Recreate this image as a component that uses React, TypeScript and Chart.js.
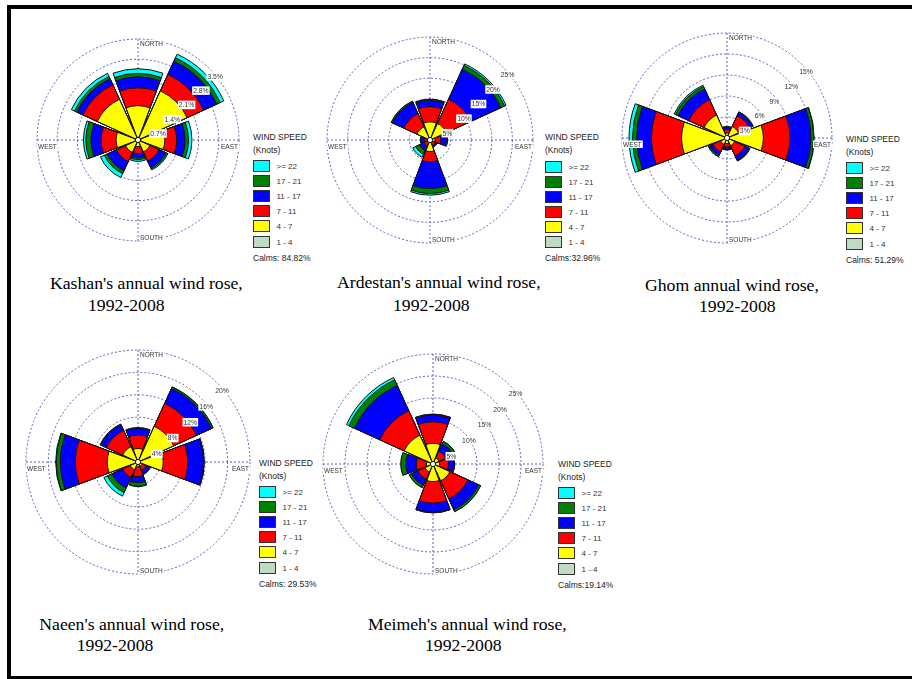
import React, { useEffect, useRef } from 'react';
import { Chart, registerables } from 'chart.js';

Chart.register(...registerables);

// ---------------- DATA ----------------
const directions = ['N', 'NE', 'E', 'SE', 'S', 'SW', 'W', 'NW'];
const speedClasses = ['1 - 4', '4 - 7', '7 - 11', '11 - 17', '17 - 21', '>= 22'];

// Frequencies (%) : rows = speed classes (1-4 ... >=22), cols = directions (N ... NW)
const kashanFreq = [
  [0.10, 0.10, 0.10, 0.08, 0.05, 0.08, 0.10, 0.10],
  [1.09, 1.77, 0.83, 0.37, 0.18, 0.39, 0.66, 1.45],
  [0.62, 0.63, 0.41, 0.35, 0.24, 0.35, 0.52, 0.55],
  [0.38, 0.50, 0.29, 0.25, 0.15, 0.35, 0.35, 0.23],
  [0.12, 0.13, 0.12, 0.05, 0.06, 0.11, 0.18, 0.09],
  [0.16, 0.14, 0.12, 0.04, 0.06, 0.15, 0.08, 0.12],
];
const kashanTicks = [0.7, 1.4, 2.1, 2.8, 3.5];
const kashanCalms = 'Calms: 84.82%';

const ardestanFreq = [
  [0.3, 0.3, 0.2, 0.2, 0.3, 0.2, 0.2, 0.3],
  [4.1, 4.1, 1.0, 0.6, 2.5, 0.6, 0.5, 3.2],
  [3.7, 6.5, 1.4, 0.7, 2.5, 0.8, 0.7, 3.5],
  [1.5, 8.0, 1.5, 0.3, 6.5, 1.2, 0.8, 3.0],
  [0.2, 1.0, 0.1, 0.05, 1.2, 1.0, 0.1, 0.3],
  [0.1, 0.4, 0.05, 0.05, 0.4, 0.8, 0.05, 0.05],
];
const ardestanTicks = [5, 10, 15, 20, 25];
const ardestanCalms = 'Calms:32.96%';

const ghomFreq = [
  [0.2, 0.2, 0.3, 0.2, 0.2, 0.2, 0.3, 0.2],
  [0.5, 1.6, 4.9, 1.0, 0.6, 0.8, 6.2, 3.4],
  [0.5, 1.7, 3.8, 1.6, 0.5, 1.2, 4.3, 2.4],
  [0.3, 0.5, 3.0, 0.7, 0.3, 0.5, 2.1, 1.7],
  [0.1, 0.1, 0.4, 0.1, 0.1, 0.2, 0.6, 0.4],
  [0.05, 0.0, 0.05, 0.0, 0.0, 0.0, 0.5, 0.2],
];
const ghomTicks = [3, 6, 9, 12, 15];
const ghomCalms = 'Calms: 51.29%';

const naeenFreq = [
  [0.3, 0.3, 0.3, 0.2, 0.2, 0.2, 0.3, 0.3],
  [2.1, 6.7, 4.2, 0.6, 0.6, 1.3, 5.2, 2.7],
  [2.4, 4.5, 4.4, 0.8, 1.8, 1.5, 5.7, 3.2],
  [1.2, 2.9, 2.8, 0.7, 1.1, 2.1, 2.7, 1.1],
  [0.1, 0.3, 0.1, 0.1, 0.6, 0.9, 0.7, 0.1],
  [0.05, 0.05, 0.05, 0.0, 0.1, 0.7, 0.1, 0.05],
];
const naeenTicks = [4, 8, 12, 16, 20];
const naeenCalms = 'Calms: 29.53%';

const meimehFreq = [
  [0.3, 0.3, 0.3, 0.3, 0.3, 0.3, 0.3, 0.3],
  [4.4, 1.2, 1.2, 3.9, 3.7, 1.7, 1.2, 6.9],
  [4.9, 1.7, 2.0, 4.5, 4.9, 1.8, 2.3, 6.1],
  [1.5, 1.8, 1.2, 2.7, 2.0, 1.5, 2.4, 6.3],
  [0.2, 0.6, 0.2, 0.5, 0.2, 0.6, 1.1, 1.4],
  [0.05, 0.05, 0.0, 0.0, 0.0, 0.0, 0.0, 0.6],
];
const meimehTicks = [5, 10, 15, 20, 25];
const meimehCalms = 'Calms:19.14%';

const kashanTitle = ["Kashan's annual wind rose,", '1992-2008'];
const ardestanTitle = ["Ardestan's annual wind rose,", '1992-2008'];
const ghomTitle = ['Ghom annual wind rose,', '1992-2008'];
const naeenTitle = ["Naeen's annual wind rose,", '1992-2008'];
const meimehTitle = ["Meimeh's annual wind rose,", '1992-2008'];

const cardinalLabels = ['NORTH', 'EAST', 'SOUTH', 'WEST'];
const legendTitle = ['WIND SPEED', '(Knots)'];

// ---------------- STYLE / LAYOUT ----------------
const classColors = ['#c0dcc0', '#ffff00', '#ff0000', '#0000ff', '#008000', '#00ffff'];
const gridColor = '#6060c0';
const SECTOR = 41;
const GAP = 4;
const PAD = 6;
const sansFont = '"Liberation Sans", Arial, sans-serif';
const serifFont = '"Liberation Serif", "Times New Roman", serif';

type Layout = {
  cx: number; cy: number; R: number;
  legend: [number, number];
  title: [[number, number], [number, number]];
};

const stations = [
  { freq: kashanFreq, ticks: kashanTicks, calms: kashanCalms, title: kashanTitle,
    layout: { cx: 138, cy: 140, R: 101, legend: [253, 133], title: [[50, 290], [88, 311.7]] } as Layout },
  { freq: ardestanFreq, ticks: ardestanTicks, calms: ardestanCalms, title: ardestanTitle,
    layout: { cx: 430, cy: 140, R: 103, legend: [545, 133.5], title: [[337, 289], [393, 312]] } as Layout },
  { freq: ghomFreq, ticks: ghomTicks, calms: ghomCalms, title: ghomTitle,
    layout: { cx: 727, cy: 138, R: 105, legend: [846, 135], title: [[645, 292], [699, 313]] } as Layout },
  { freq: naeenFreq, ticks: naeenTicks, calms: naeenCalms, title: naeenTitle,
    layout: { cx: 138, cy: 462, R: 112, legend: [259, 459], title: [[39.3, 631], [76.7, 651.7]] } as Layout },
  { freq: meimehFreq, ticks: meimehTicks, calms: meimehCalms, title: meimehTitle,
    layout: { cx: 433, cy: 464, R: 110, legend: [558, 460], title: [[368, 631], [425, 652]] } as Layout },
];

function labelBox(ctx: CanvasRenderingContext2D, text: string, x: number, y: number, h: number) {
  const w = ctx.measureText(text).width;
  ctx.fillStyle = '#ffffff';
  ctx.fillRect(x - 1, y, w + 2, h);
  ctx.fillStyle = '#333333';
  ctx.fillText(text, x, y + h / 2 + 0.5);
  return w;
}

function makeDecorPlugin(ticks: number[]) {
  return {
    id: 'roseDecor',
    beforeDatasetsDraw(chart: any) {
      const s = chart.scales.r;
      const ctx = chart.ctx as CanvasRenderingContext2D;
      const cx = s.xCenter, cy = s.yCenter;
      const R = s.getDistanceFromCenterForValue(ticks[ticks.length - 1]);
      ctx.save();
      ctx.strokeStyle = gridColor;
      ctx.lineWidth = 1;
      ctx.setLineDash([2, 2]);
      ctx.beginPath();
      ctx.moveTo(cx, cy - R);
      ctx.lineTo(cx, cy + R);
      ctx.moveTo(cx - R, cy);
      ctx.lineTo(cx + R, cy);
      ctx.stroke();
      ctx.restore();
    },
    afterDatasetsDraw(chart: any) {
      const s = chart.scales.r;
      const ctx = chart.ctx as CanvasRenderingContext2D;
      const cx = s.xCenter, cy = s.yCenter;
      const R = s.getDistanceFromCenterForValue(ticks[ticks.length - 1]);
      ctx.save();
      // calms circle
      ctx.beginPath();
      ctx.arc(cx, cy, 2.6, 0, Math.PI * 2);
      ctx.fillStyle = '#ffffff';
      ctx.fill();
      ctx.strokeStyle = '#111';
      ctx.lineWidth = 1;
      ctx.stroke();

      // cardinal labels
      ctx.font = `6.5px ${sansFont}`;
      ctx.textBaseline = 'middle';
      ctx.textAlign = 'left';
      const h = 7.5;
      const [north, east, south, west] = cardinalLabels;
      labelBox(ctx, north, cx + 2, cy - R + 1, h);
      labelBox(ctx, south, cx + 2, cy + R - h, h);
      labelBox(ctx, west, cx - R + 1, cy + 2.5, h);
      const ew = ctx.measureText(east).width;
      labelBox(ctx, east, cx + R - ew - 1, cy + 2.5, h);

      // tick labels along NE direction
      ctx.font = `6.8px ${sansFont}`;
      ticks.forEach((v) => {
        const d = s.getDistanceFromCenterForValue(v);
        const px = cx + d * Math.SQRT1_2;
        const py = cy - d * Math.SQRT1_2;
        labelBox(ctx, `${v}%`, px - 2, py + 3.5, 8.5);
      });
      ctx.restore();
    },
  };
}

function WindRose({ freq, ticks, layout }: { freq: number[][]; ticks: number[]; layout: Layout }) {
  const ref = useRef<HTMLCanvasElement>(null);
  useEffect(() => {
    const labels: string[] = [];
    directions.forEach((d) => {
      labels.push(d);
      labels.push('');
    });
    const datasets = speedClasses.map((name, k) => {
      const data: number[] = [];
      directions.forEach((_, d) => {
        let sum = 0;
        for (let j = 0; j <= k; j++) sum += freq[j][d];
        data.push(sum);
        data.push(0);
      });
      return {
        label: name,
        data,
        backgroundColor: data.map((_, i) => (i % 2 === 0 ? classColors[k] : 'rgba(0,0,0,0)')),
        borderColor: '#111111',
        borderWidth: data.map((_, i) => (i % 2 === 0 ? 1 : 0)),
        angle: data.map((_, i) => (i % 2 === 0 ? SECTOR : GAP)),
      };
    });
    const chart = new Chart(ref.current as HTMLCanvasElement, {
      type: 'polarArea',
      data: { labels, datasets } as any,
      options: {
        animation: false,
        responsive: false,
        maintainAspectRatio: false,
        layout: { padding: PAD },
        plugins: { legend: { display: false }, tooltip: { enabled: false } },
        scales: {
          r: {
            min: 0,
            max: ticks[ticks.length - 1],
            startAngle: -SECTOR / 2,
            ticks: { display: false, stepSize: ticks[0] },
            grid: { circular: true, color: gridColor, lineWidth: 1 },
            border: { dash: [2, 2] },
            angleLines: { display: false },
            pointLabels: { display: false },
          },
        },
      } as any,
      plugins: [makeDecorPlugin(ticks) as any],
    });
    return () => chart.destroy();
  }, []);
  const size = 2 * layout.R + 2 * PAD;
  return (
    <canvas
      ref={ref}
      width={size}
      height={size}
      style={{ position: 'absolute', left: layout.cx - layout.R - PAD, top: layout.cy - layout.R - PAD, width: size, height: size }}
    />
  );
}

function Legend({ x, y, calms }: { x: number; y: number; calms: string }) {
  const base: React.CSSProperties = { position: 'absolute', lineHeight: 1, whiteSpace: 'nowrap', color: '#222' };
  const rows = speedClasses.map((name, k) => ({ name, color: classColors[k] })).reverse();
  return (
    <>
      <div style={{ ...base, left: x, top: y - 1.1, font: `8.5px ${sansFont}` }}>{legendTitle[0]}</div>
      <div style={{ ...base, left: x, top: y + 11.5, font: `8.5px ${sansFont}` }}>{legendTitle[1]}</div>
      {rows.map((r, i) => {
        const top = y + 27 + i * 15.1;
        return (
          <React.Fragment key={r.name}>
            <div style={{ position: 'absolute', left: x, top, width: 17, height: 12, boxSizing: 'border-box', background: r.color, border: '1px solid #333' }} />
            <div style={{ ...base, left: x + 23.5, top: top + 2, font: `8px ${sansFont}`, color: '#333' }}>{r.name}</div>
          </React.Fragment>
        );
      })}
      <div style={{ ...base, left: x, top: y + 119.5, font: `8.5px ${sansFont}` }}>{calms}</div>
    </>
  );
}

function Title({ lines, pos }: { lines: string[]; pos: [[number, number], [number, number]] }) {
  const fs = 17.7;
  return (
    <>
      {lines.map((t, i) => (
        <div
          key={i}
          style={{ position: 'absolute', left: pos[i][0], top: pos[i][1] - 0.8375 * fs, font: `${fs}px ${serifFont}`, lineHeight: 1, whiteSpace: 'nowrap', color: '#000' }}
        >
          {t}
        </div>
      ))}
    </>
  );
}

export default function App() {
  return (
    <div style={{ position: 'absolute', left: 0, top: 0, width: 912, height: 679, overflow: 'hidden', background: '#fff' }}>
      <div style={{ position: 'absolute', left: 7, top: 5, width: 1000, height: 667, borderLeft: '4px solid #000', borderTop: '4px solid #000', borderBottom: '3px solid #000' }} />
      {stations.map((st, i) => (
        <React.Fragment key={i}>
          <WindRose freq={st.freq} ticks={st.ticks} layout={st.layout} />
          <Legend x={st.layout.legend[0]} y={st.layout.legend[1]} calms={st.calms} />
          <Title lines={st.title} pos={st.layout.title} />
        </React.Fragment>
      ))}
    </div>
  );
}
